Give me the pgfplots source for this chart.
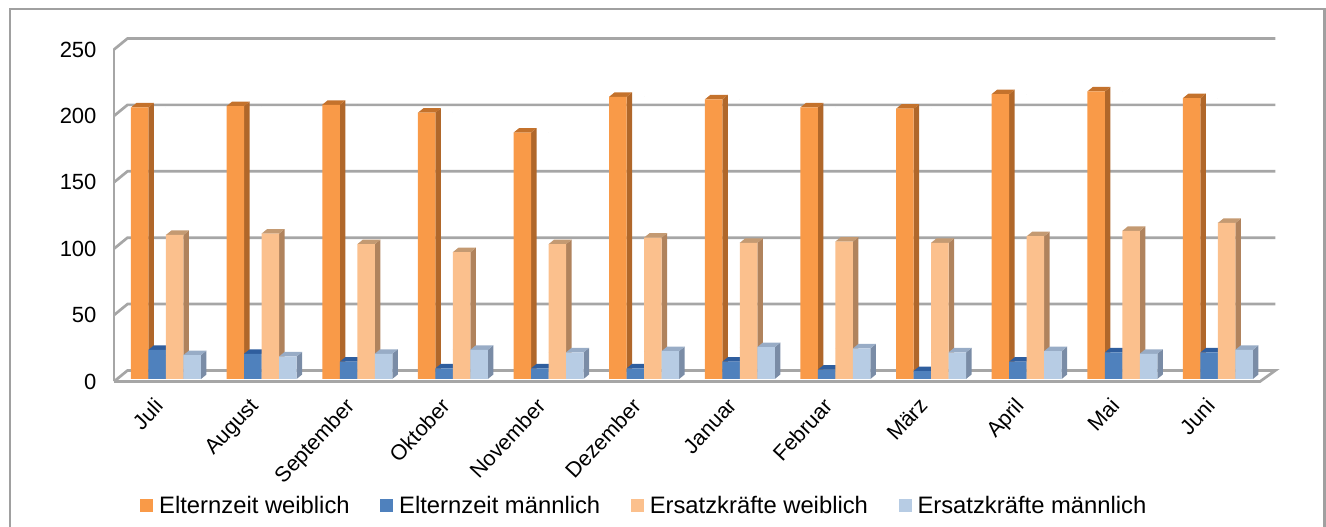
\documentclass[border=0pt]{standalone}
\usepackage{fontspec}
\setmainfont{Liberation Sans}
\usepackage{pgfplots}
\usepackage{pgfplotstable}
\pgfplotsset{compat=1.18}
\definecolor{gridc}{HTML}{A6A6A6}
\definecolor{framec}{HTML}{A0A0A0}
\definecolor{oF}{HTML}{F99A48}\definecolor{oS}{HTML}{B0672A}\definecolor{oT}{HTML}{C4722C}
\definecolor{bF}{HTML}{4F81BD}\definecolor{bS}{HTML}{2F5C94}\definecolor{bT}{HTML}{2F5E9E}
\definecolor{lF}{HTML}{FBC08D}\definecolor{lS}{HTML}{B0835D}\definecolor{lT}{HTML}{C49A72}
\definecolor{pF}{HTML}{B7CCE4}\definecolor{pS}{HTML}{7A8CA6}\definecolor{pT}{HTML}{98ACC6}
\pgfplotstableread{
x  ew    em    ow    om
0  204.5 22    108.5 18
1  205.5 19    109.5 17
2  206.5 13    101.5 19
3  200.5 8     95.5  22
4  185.5 8     101.5 20
5  212.5 8     106.5 21
6  210.5 13    102.5 24
7  204.5 7     103.5 23
8  203.5 6     102.5 20
9  214.5 13    107.5 21
10 216.5 20    111.5 19
11 211.5 20    117.5 22
}\datatable
% series: column, bar shift, front, side, top
\newcommand{\barseries}[6]{%
  \addplot[only marks, scatter, forget plot, mark=*, mark size=0pt, draw=none,
    visualization depends on={rawy \as \barval},
    scatter/@pre marker code/.code={%
      \pgfmathsetmacro\barh{\barval*1.328}%
      \fill[#5] (#2pt+8.75pt,0pt) -- (#2pt+14.25pt,4.5pt) -- (#2pt+14.25pt,-\barh pt+4.5pt) -- (#2pt+8.75pt,-\barh pt) -- cycle;%
      \fill[#6] (#2pt-8.75pt,0pt) -- (#2pt+8.75pt,0pt) -- (#2pt+14.25pt,4.5pt) -- (#2pt-3.25pt,4.5pt) -- cycle;%
    },
    scatter/@post marker code/.code={}]
    table[x=x,y=#1] {\datatable};
  \addplot[ybar, bar width=17.5pt, bar shift=#2pt, fill=#4, draw=none] table[x=x,y=#1] {\datatable};
  \addlegendentry{#3}
}
\begin{document}
\begin{tikzpicture}
\path[use as bounding box] (0pt,0pt) rectangle (1326pt,527pt);
\draw[framec, line width=2.4pt] (10pt,-3pt) -- (10pt,518pt) -- (1324.5pt,518pt) -- (1324.5pt,-3pt);
\begin{axis}[
  at={(114pt,148pt)}, anchor=south west,
  scale only axis, width=1146pt, height=332pt,
  xmin=-0.5437, xmax=11.44, ymin=0, ymax=250,
  clip=false, clip mode=individual,
  axis line style={draw=none},
  major tick length=0pt,
  tick style={draw=none},
  xtick={0,...,11},
  xticklabels={Juli,August,September,Oktober,November,Dezember,Januar,Februar,März,April,Mai,Juni},
  ytick={0,50,100,150,200,250},
  /pgf/number format/assume math mode=true,
  yticklabel style={font=\fontsize{22}{26}\selectfont, yshift=-2.5pt, xshift=-14pt},
  xticklabel style={font=\fontsize{21.5}{26}\selectfont, rotate=47, anchor=north east, yshift=1pt, xshift=-18.5pt},
  legend columns=4,
  legend style={at={(0.0227,-0.381)}, anchor=west, draw=none, fill=none, inner sep=0pt,
    font=\fontsize{23.8}{28}\selectfont,
    /tikz/every odd column/.append style={column sep=6pt},
    /tikz/every even column/.append style={column sep=30.5pt},
    nodes={inner sep=0pt}},
  legend image code/.code={\fill[#1] (0pt,-6.5pt) rectangle (13pt,6.5pt);},
]
% back-wall and floor lines, one per labelled value: front corner, back corner, back end
\pgfplotsinvokeforeach{50,100,150,200,250}{
  \addplot[gridc, line width=2.7pt, forget plot, no marks] coordinates {(-0.5437,#1-1.88) (-0.4026,#1+6.4) (11.6,#1+6.4)};
}
\addplot[gridc, line width=2.7pt, forget plot, no marks] coordinates {(-0.5437,-1.88) (-0.5437,248.12)};
\addplot[gridc, line width=2.7pt, forget plot, no marks] coordinates {(-0.5437,-1.88) (-0.4026,6.4) (11.6,6.4) (11.44,-1.88) (-0.5437,-1.88)};
\barseries{ew}{-26.25}{Elternzeit weiblich}{oF}{oS}{oT}
\barseries{em}{-8.75}{Elternzeit männlich}{bF}{bS}{bT}
\barseries{ow}{8.75}{Ersatzkräfte weiblich}{lF}{lS}{lT}
\barseries{om}{26.25}{Ersatzkräfte männlich}{pF}{pS}{pT}
\end{axis}
\end{tikzpicture}
\end{document}
